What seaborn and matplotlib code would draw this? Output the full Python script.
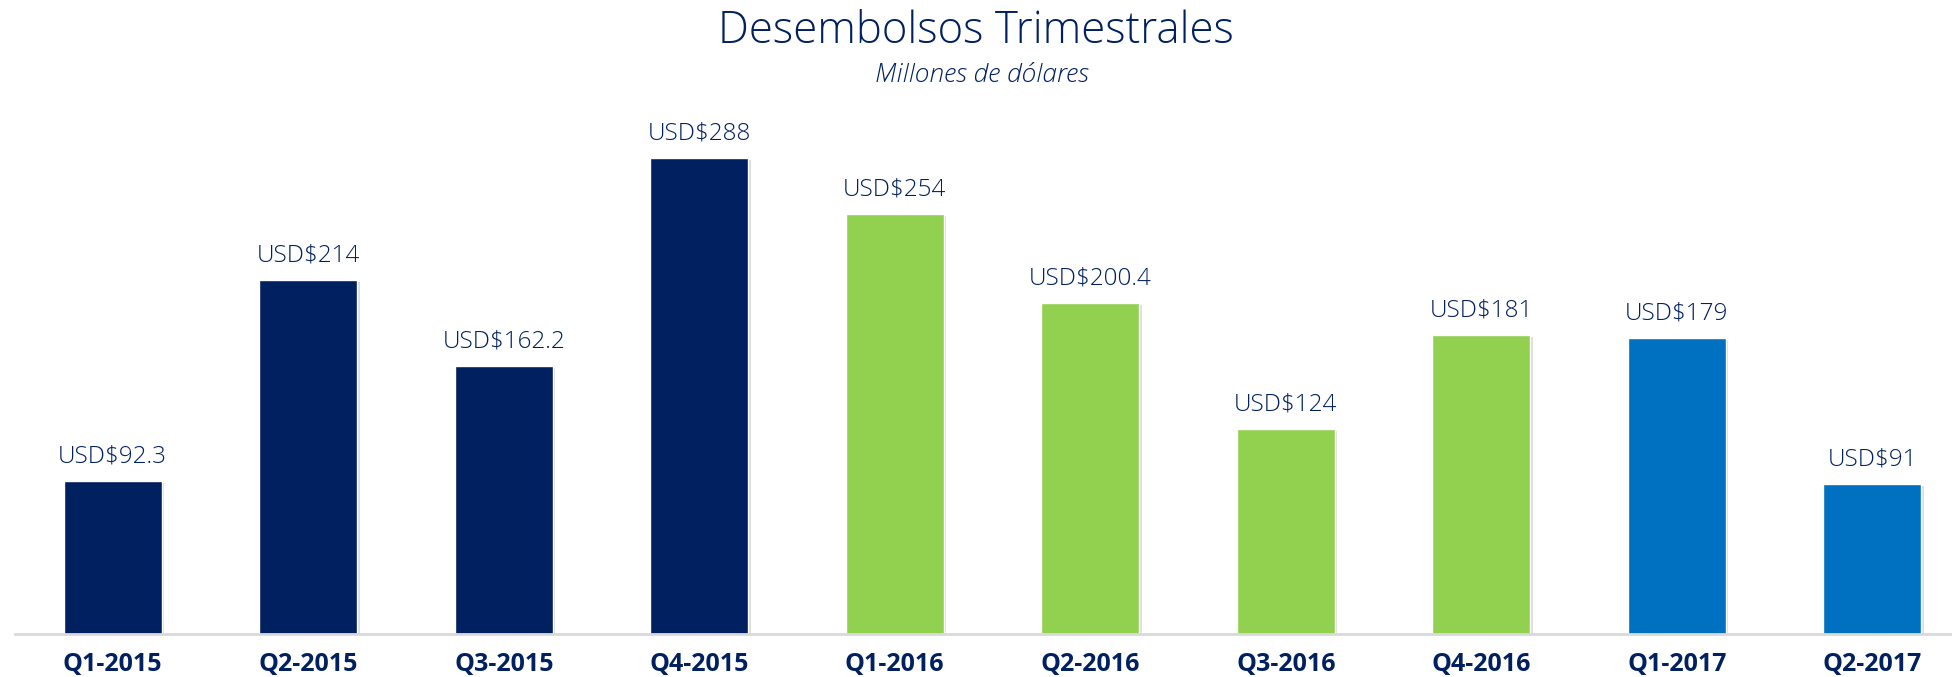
import numpy as np
import matplotlib
matplotlib.use("Agg")
import matplotlib.pyplot as plt
import matplotlib.patheffects as pe
import seaborn as sns

# chart data
quarters = ["Q1-2015", "Q2-2015", "Q3-2015", "Q4-2015",
            "Q1-2016", "Q2-2016", "Q3-2016", "Q4-2016",
            "Q1-2017", "Q2-2017"]
values = [92.3, 214, 162.2, 288, 254, 200.4, 124, 181, 179, 91]
labels = ["USD$92.3", "USD$214", "USD$162.2", "USD$288", "USD$254",
          "USD$200.4", "USD$124", "USD$181", "USD$179", "USD$91"]
bar_colors = ["#002060"] * 4 + ["#92D050"] * 4 + ["#0070C0"] * 2

navy = "#002060"

sns.set_style("white")
plt.rcParams["font.family"] = ["Open Sans", "DejaVu Sans"]

fig = plt.figure(figsize=(19.52, 6.77), dpi=100)
ax = fig.add_axes([15 / 1952, 43 / 677, 1955 / 1952, 496 / 677])

sns.barplot(x=quarters, y=values, hue=quarters, palette=bar_colors,
            width=0.5, legend=False, saturation=1, ax=ax)

for p in ax.patches:
    p.set_path_effects([pe.SimplePatchShadow(offset=(2, -1.5), alpha=0.18, shadow_rgbFace="#444444"),
                        pe.Normal()])

for i, (v, lab) in enumerate(zip(values, labels)):
    ax.annotate(lab, (i, v), xytext=(0, 9), textcoords="offset points",
                ha="center", va="bottom", fontsize=17.5, fontweight="light",
                color=navy, clip_on=False)

ax.set_xlim(-0.5, 9.5)
ax.set_ylim(0, 300)
ax.set_yticks([])
sns.despine(ax=ax, left=True, top=True, right=True)
ax.spines["bottom"].set_color("#D9D9D9")
ax.spines["bottom"].set_linewidth(2)

ax.set_xticks(np.arange(-0.5, 10, 1), minor=True)
ax.tick_params(axis="x", which="minor", length=8, width=1.5, color="#D9D9D9", direction="out")
ax.tick_params(axis="x", which="major", length=0, pad=13)
for t in ax.get_xticklabels():
    t.set_fontsize(18)
    t.set_fontweight("bold")
    t.set_color(navy)

fig.text(0.5, 0.953, "Desembolsos Trimestrales", ha="center", va="center",
         fontsize=31.5, fontweight="light", color=navy)
fig.text(0.503, 0.889, "Millones de dólares", ha="center", va="center",
         fontsize=19, fontweight="light", style="italic", color=navy)

fig.savefig("out.png", dpi=100, facecolor="white")
